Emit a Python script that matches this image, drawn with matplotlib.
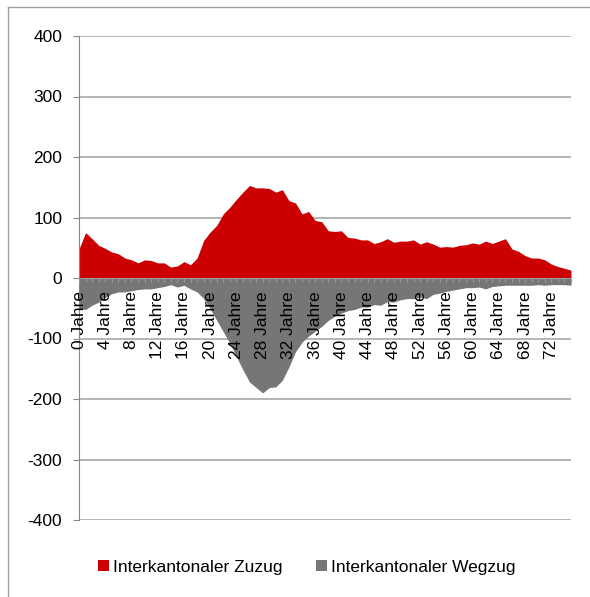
import matplotlib
matplotlib.use("Agg")
import matplotlib.pyplot as plt
from matplotlib.patches import Patch
from matplotlib.lines import Line2D

plt.rcParams['font.family'] = ['Liberation Sans', 'DejaVu Sans']

ages = list(range(0, 76))
age_labels = [f"{a} Jahre" for a in ages]

zuzug = [48, 75, 65, 54, 49, 43, 40, 33, 30, 25,
         30, 29, 25, 25, 18, 20, 27, 22, 33, 62,
         76, 87, 106, 117, 130, 142, 153, 149, 149, 148,
         142, 146, 128, 124, 106, 110, 95, 93, 78, 77,
         78, 67, 66, 63, 63, 57, 60, 65, 59, 61,
         61, 63, 56, 60, 56, 51, 52, 51, 54, 55,
         58, 56, 61, 57, 61, 65, 48, 44, 37, 33,
         33, 30, 23, 19, 16, 13]

wegzug = [-51, -52, -45, -40, -32, -26, -23, -23, -21, -19,
          -18, -18, -16, -14, -11, -15, -12, -18, -23, -34,
          -51, -70, -89, -108, -130, -152, -172, -181, -190, -181,
          -180, -169, -147, -122, -106, -96, -88, -80, -70, -63,
          -58, -54, -52, -48, -48, -44, -45, -39, -40, -36,
          -34, -34, -32, -34, -27, -25, -22, -20, -18, -16,
          -16, -15, -18, -14, -13, -12, -12, -12, -12, -12,
          -11, -12, -11, -11, -11, -12]

series_names = ["Interkantonaler Zuzug", "Interkantonaler Wegzug"]
colors = ["#CC0000", "#767676"]
yticks = [-400, -300, -200, -100, 0, 100, 200, 300, 400]

FS = 12.5

fig = plt.figure(figsize=(5.9, 5.97), dpi=100)
ax = fig.add_axes([79/590, 77/597, (571-79)/590, (561-77)/597])

# gridlines below the areas
for v in yticks:
    ax.axhline(v, color="#a0a0a0", lw=1.1, zorder=0.5)

ax.fill_between(ages, 0, zuzug, color=colors[0], lw=0, zorder=1)
ax.fill_between(ages, 0, wegzug, color=colors[1], lw=0, zorder=1)

ax.set_xlim(ages[0], ages[-1])
ax.set_ylim(-400, 400)
ax.set_yticks(yticks)
ax.set_yticklabels([str(v) for v in yticks], fontsize=FS)
ax.set_axisbelow(False)

for s in ["top", "right"]:
    ax.spines[s].set_visible(False)
ax.spines["left"].set_color("#888888")
ax.spines["bottom"].set_position(("data", 0))
ax.spines["bottom"].set_color("#999999")

ax.tick_params(axis="y", length=4, color="#888888", pad=8, labelcolor="black")
ax.set_xticks(ages)
ax.set_xticklabels([lab if a % 4 == 0 and a <= 72 else "" for a, lab in zip(ages, age_labels)],
                   rotation=90, fontsize=FS)
ax.tick_params(axis="x", length=3, color="#9a9a9a", pad=6.5, direction="out")

handles = [Patch(facecolor=c, edgecolor="none") for c in colors]
fig.legend(handles, series_names, loc="center", bbox_to_anchor=(0.52, 0.05),
           ncol=2, frameon=False, fontsize=FS, handlelength=0.65, handleheight=0.65,
           handletextpad=0.25, columnspacing=1.9)

# outer chart border (cropped at right/bottom)
fig.add_artist(Line2D([8/590, 8/590], [0, 1 - 7/597], transform=fig.transFigure,
                      color="#a0a0a0", lw=1))
fig.add_artist(Line2D([8/590, 1], [1 - 7/597, 1 - 7/597], transform=fig.transFigure,
                      color="#a0a0a0", lw=1))

fig.savefig("out.png", dpi=100)
